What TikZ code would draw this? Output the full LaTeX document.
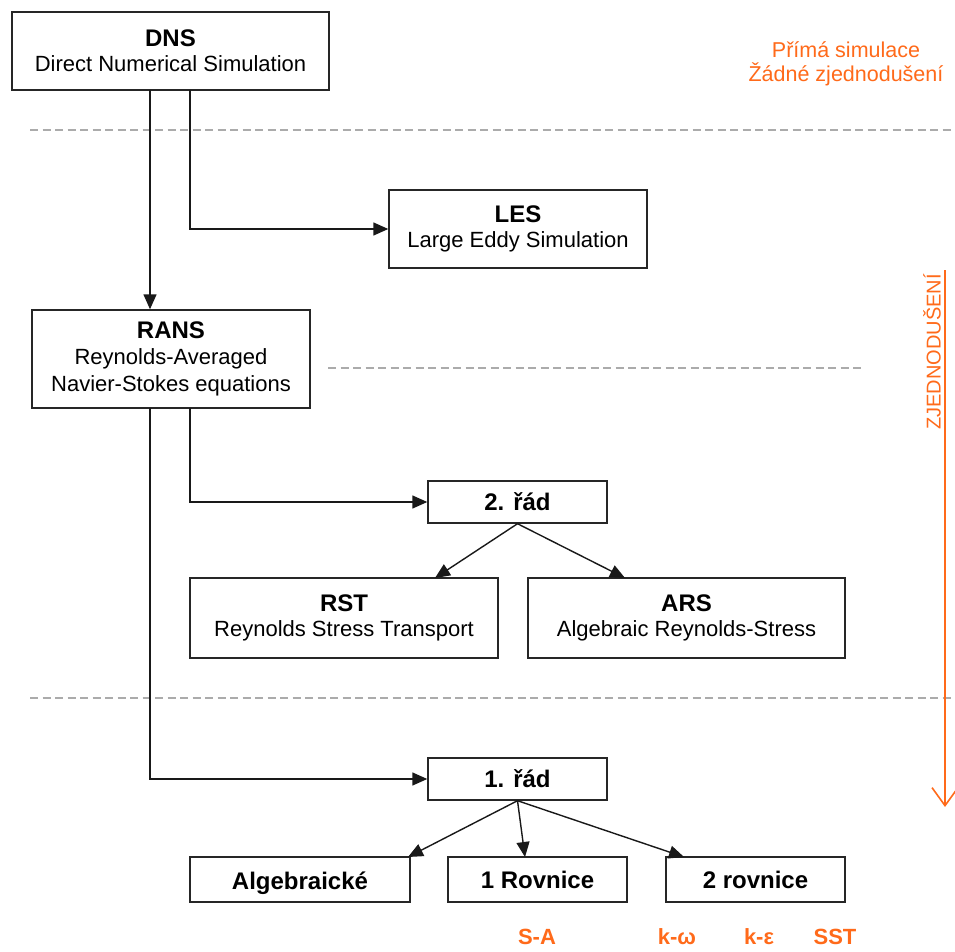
\documentclass[tikz,border=0pt]{standalone}
\usepackage{fontspec}
\setmainfont{Liberation Sans}
\usetikzlibrary{arrows.meta}
\definecolor{orng}{HTML}{FF6A1A}
\definecolor{dgray}{HTML}{ABABAB}
\begin{document}
\begin{tikzpicture}[x=1pt,y=-1pt,
  box/.style={draw=black!85,line width=1.4pt,fill=white,inner sep=0pt,align=center,
    font=\fontsize{22}{27}\selectfont},
  conn/.style={draw=black!90,line width=1.4pt,-{Triangle[length=15pt,width=13pt]}},
  sep/.style={draw=dgray,line width=1.8pt,dash pattern=on 8pt off 4.5pt},
  olab/.style={text=orng,font=\fontsize{22}{26}\selectfont\bfseries},
  ttl/.style={font=\fontsize{24}{28}\selectfont\bfseries}]
\useasboundingbox (0,0) rectangle (955,952);
\fill[white] (0,0) rectangle (955,952);
% separators
\draw[sep] (30,130) -- (952,130);
\draw[sep] (328,368) -- (865,368);
\draw[sep] (30,698) -- (952,698);
% boxes
\node[box,minimum width=317pt,minimum height=78pt] (dns) at (170.5,51)
  {{\fontsize{24}{28}\selectfont\bfseries DNS}\\[-2pt]Direct Numerical Simulation};
\node[box,minimum width=258pt,minimum height=78pt] (les) at (518,229)
  {{\fontsize{24}{28}\selectfont\bfseries LES}\\[-2pt]Large Eddy Simulation};
\node[box,minimum width=278pt,minimum height=98pt] (rans) at (171,359)
  {{\fontsize{24}{28}\selectfont\bfseries RANS}\\[-1pt]Reynolds-Averaged\\Navier-Stokes equations};
\node[box,minimum width=179pt,minimum height=42pt,ttl] (r2) at (517.5,502) {2. řád};
\node[box,minimum width=308pt,minimum height=80pt] (rst) at (344,618)
  {{\fontsize{24}{28}\selectfont\bfseries RST}\\[-2pt]Reynolds Stress Transport};
\node[box,minimum width=317pt,minimum height=80pt] (ars) at (686.5,618)
  {{\fontsize{24}{28}\selectfont\bfseries ARS}\\[-2pt]Algebraic Reynolds-Stress};
\node[box,minimum width=179pt,minimum height=42pt,ttl] (r1) at (517.5,779) {1. řád};
\node[box,minimum width=220pt,minimum height=45pt,ttl,text height=22pt,text depth=2pt] (alg) at (300,879.5) {Algebraické};
\node[box,minimum width=179pt,minimum height=45pt,ttl] (r1e) at (537.5,879.5) {1 Rovnice};
\node[box,minimum width=179pt,minimum height=45pt,ttl] (r2e) at (755.5,879.5) {2 rovnice};
% connectors
\coordinate (d1) at (150,90);
\coordinate (d2) at (190,90);
\draw[conn] (d1) -- (rans.north -| d1);
\draw[conn] (d2) |- (les.west);
\coordinate (ra1) at (150,408);
\coordinate (ra2) at (190,408);
\draw[conn] (ra2) |- (r2.west);
\draw[conn] (ra1) |- (r1.west);
\coordinate (rst-t) at (435,578);
\coordinate (ars-t) at (625,578);
\draw[conn] (r2.south) -- (rst-t);
\draw[conn] (r2.south) -- (ars-t);
\coordinate (alg-t) at (408,857);
\coordinate (r1e-t) at (525,857);
\coordinate (r2e-t) at (684,857);
\draw[conn] (r1.south) -- (alg-t);
\draw[conn] (r1.south) -- (r1e-t);
\draw[conn] (r1.south) -- (r2e-t);
% orange annotations
\node[text=orng,align=center,font=\fontsize{21.5}{24}\selectfont] (prima) at (846,64)
  {Přímá simulace\\Žádné zjednodušení};
\coordinate (oa) at (945,270);
\coordinate (ob) at (945,807);
\draw[orng,line width=1.6pt,-{Straight Barb[length=18pt,width=26pt,line width=1.6pt]}] (oa) -- (ob);
\node[text=orng,rotate=90,font=\fontsize{20}{24}\selectfont] (zj) at (932,352) {ZJEDNODUŠENÍ};
\node[olab] (sa) at (537,937) {S-A};
\node[olab] (kw) at (677,937) {k-ω};
\node[olab] (ke) at (759,937) {k-ε};
\node[olab] (sst) at (835,937) {SST};
\end{tikzpicture}
\end{document}
